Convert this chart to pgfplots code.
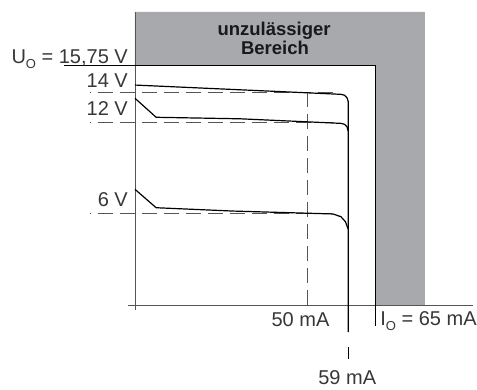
\documentclass[border=0pt]{standalone}
\usepackage{fontspec}
\setmainfont{Liberation Sans}
\usepackage{pgfplots}
\pgfplotsset{compat=1.18}
\definecolor{zone}{RGB}{168,169,173}
\definecolor{axisgray}{RGB}{85,85,85}
\definecolor{txt}{RGB}{55,55,55}
\newcommand{\sub}[1]{\raisebox{-0.45ex}{\fontsize{13}{13}\selectfont #1}}
\tikzset{lab/.style={font=\fontsize{20}{24}\selectfont, text=txt, inner sep=0pt},
         blab/.style={font=\bfseries\fontsize{18.5}{20}\selectfont, text=black!90, inner sep=0pt}}
\begin{document}
\begin{tikzpicture}
\begin{axis}[
  x=4.518pt, y=15.2pt,
  xmin=-18.06, xmax=87.52, ymin=-5.592, ymax=20.066,
  axis line style={draw=none}, xtick=\empty, ytick=\empty,
  clip=false,
]
% forbidden zone
\addplot[fill=zone, draw=none] coordinates {(11.82,19.28) (76,19.28) (76,0) (65,0) (65,15.75) (11.82,15.75)} -- cycle;
% axes
\addplot[axisgray, line width=0.8pt] coordinates {(11.82,19.28) (11.82,-0.33)};
\addplot[axisgray, line width=0.8pt] coordinates {(10.27,0) (86.6,0)};
% limit lines
\addplot[black, line width=1pt] coordinates {(-3.9,15.75) (65,15.75) (65,-1.38)};
% dashed helper lines
\addplot[axisgray, line width=0.8pt, dash pattern=on 15pt off 7pt, dash phase=14pt] coordinates {(1.86,14) (57,14)};
\addplot[axisgray, line width=0.8pt, dash pattern=on 15pt off 7pt, dash phase=14pt] coordinates {(1.86,12) (57,12)};
\addplot[axisgray, line width=0.8pt, dash pattern=on 15pt off 7pt, dash phase=14pt] coordinates {(1.86,6) (55.5,6)};
\addplot[axisgray, line width=0.8pt, dash pattern=on 15pt off 7pt] coordinates {(50,14) (50,-0.46)};
% characteristic curves
\addplot[black, line width=1.2pt] coordinates {(11.82,14.47) (57.4,13.86) (58.19,13.80) (58.75,13.63) (59,13.40) (59,-1.78)};
\addplot[black, line width=1.2pt] coordinates {(11.82,13.6) (16.5,12.35) (35.1,12.25) (57.4,11.95) (58.19,11.89) (58.75,11.72) (59,11.45)};
\addplot[black, line width=1.2pt] coordinates {(11.82,7.61) (16.5,6.40) (33.5,6.18) (55.6,5.99) (57.4,5.81) (58.4,5.48) (59,5.0)};
\addplot[black, line width=1.2pt] coordinates {(59,-2.76) (59,-3.55)};
% labels
\node[lab, anchor=base east] at (axis cs:10.27,15.89) {U\sub{O} = 15,75 V};
\node[lab, anchor=base east] at (axis cs:10.27,14.32) {14 V};
\node[lab, anchor=base east] at (axis cs:10.27,12.48) {12 V};
\node[lab, anchor=base east] at (axis cs:10.27,6.47) {6 V};
\node[lab, anchor=base] at (axis cs:48.45,-1.43) {50 mA};
\node[lab, anchor=base west] at (axis cs:66.1,-1.38) {I\sub{O} = 65 mA};
\node[lab, anchor=base] at (axis cs:58.8,-5.2) {59 mA};
\node[blab, anchor=base] at (axis cs:42.6,17.76) {unzulässiger};
\node[blab, anchor=base] at (axis cs:42.8,16.45) {Bereich};
\end{axis}
\end{tikzpicture}
\end{document}
